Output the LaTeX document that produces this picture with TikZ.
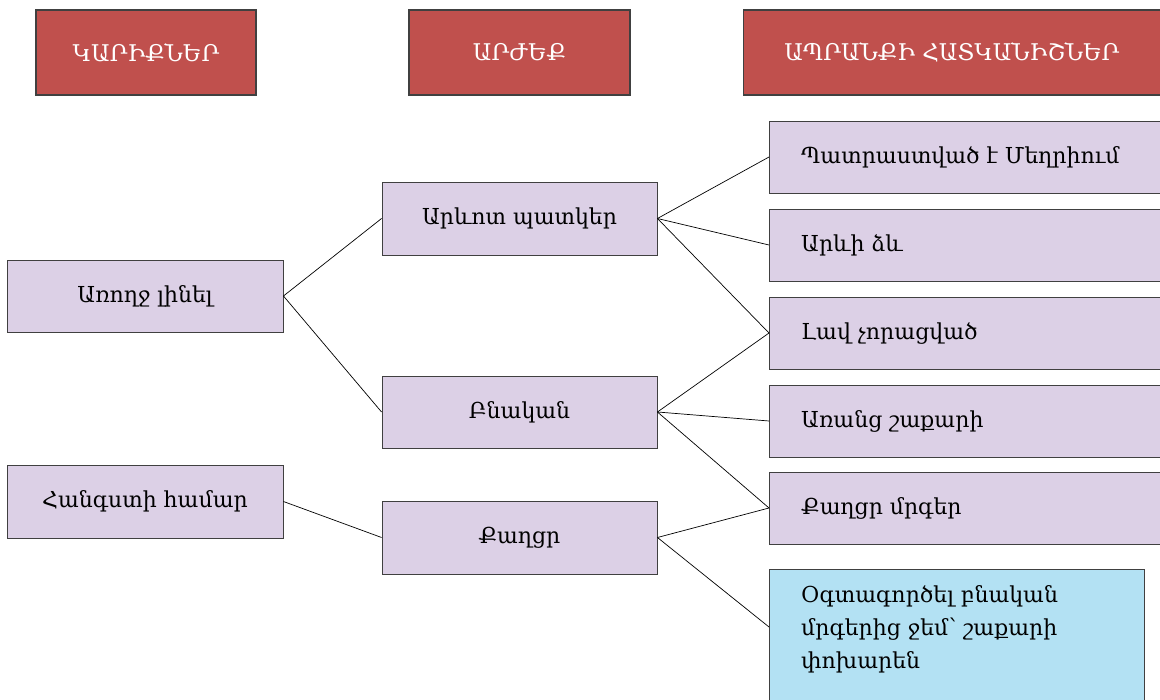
\documentclass[tikz,border=0pt]{standalone}
\usepackage{fontspec}
\setmainfont{DejaVu Serif}
\usetikzlibrary{calc}
\definecolor{hdrred}{HTML}{C0504D}
\definecolor{lilac}{HTML}{DCD0E6}
\definecolor{skyblue}{HTML}{B3E1F3}
\definecolor{edge}{HTML}{404040}
\tikzset{
  x=1pt, y=-1pt,
  hdr/.style={draw=edge, line width=1.2pt, fill=hdrred, text=white, font=\fontsize{23}{27}\selectfont, inner sep=0pt},
  item/.style={draw=edge, line width=0.9pt, fill=lilac, font=\fontsize{22}{26}\selectfont, inner sep=0pt},
  feat/.style={item, minimum width=410, minimum height=72, anchor=west},
  label/.style={anchor=west, inner sep=0pt, font=\fontsize{22}{26}\selectfont},
  link/.style={draw=black, line width=0.7pt}
}
\begin{document}
\begin{tikzpicture}
\useasboundingbox (0,0) rectangle (1160,700);
\clip (0,0) rectangle (1160,700);

% column headers
\node[hdr, minimum width=220, minimum height=85] (h1) at (146,52.5) {ԿԱՐԻՔՆԵՐ};
\node[hdr, minimum width=221, minimum height=85] (h2) at (519.5,52.5) {ԱՐԺԵՔ};
\node[hdr, minimum width=430, minimum height=85, anchor=west] (h3) at (743,52.5) {};
\node[text=white, font=\fontsize{23}{27}\selectfont, inner sep=0pt] (h3t) at (952,52.5) {ԱՊՐԱՆՔԻ ՀԱՏԿԱՆԻՇՆԵՐ};

% needs
\node[item, minimum width=276, minimum height=72] (n1) at (145,296) {Առողջ լինել};
\node[item, minimum width=276, minimum height=73] (n2) at (145,501.5) {Հանգստի համար};

% values
\node[item, minimum width=275, minimum height=73] (v1) at (519.5,218.5) {Արևոտ պատկեր};
\node[item, minimum width=275, minimum height=72] (v2) at (519.5,412) {Բնական};
\node[item, minimum width=275, minimum height=73] (v3) at (519.5,537.5) {Քաղցր};

% product features
\node[feat] (f1) at (769,157) {};
\node[feat] (f2) at (769,245) {};
\node[feat] (f3) at (769,333) {};
\node[feat] (f4) at (769,421) {};
\node[feat] (f5) at (769,508) {};
\node[label] (t1) at (801,157) {Պատրաստված է Մեղրիում};
\node[label] (t2) at (801,245) {Արևի ձև};
\node[label] (t3) at (801,333) {Լավ չորացված};
\node[label] (t4) at (801,421) {Առանց շաքարի};
\node[label] (t5) at (801,508) {Քաղցր մրգեր};
\node[item, fill=skyblue, minimum width=375, minimum height=145, anchor=north west] (f6) at (769,569) {};
\node[anchor=north west, align=left, font=\fontsize{22}{33}\selectfont, inner sep=0pt] (f6t) at (801,585)
  {Օգտագործել բնական\\մրգերից ջեմ՝ շաքարի\\փոխարեն};
\coordinate (f6in) at ($(f6.north west)+(0,58)$);

% connectors
\draw[link] (n1.east) -- (v1.west);
\draw[link] (n1.east) -- (v2.west);
\draw[link] (n2.east) -- (v3.west);
\draw[link] (v1.east) -- (f1.west);
\draw[link] (v1.east) -- (f2.west);
\draw[link] (v1.east) -- (f3.west);
\draw[link] (v2.east) -- (f3.west);
\draw[link] (v2.east) -- (f4.west);
\draw[link] (v2.east) -- (f5.west);
\draw[link] (v3.east) -- (f5.west);
\draw[link] (v3.east) -- (f6in);
\end{tikzpicture}
\end{document}
